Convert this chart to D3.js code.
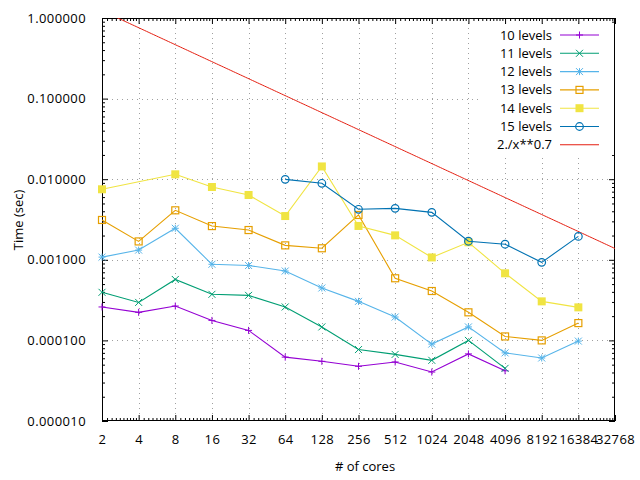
<!DOCTYPE html>
<html>
<head>
<meta charset="utf-8">
<script src="https://cdn.jsdelivr.net/npm/d3@7"></script>
<style>
html,body{margin:0;padding:0;background:#fff;}
text{font-family:"Open Sans",sans-serif;font-size:13px;fill:#000;}
</style>
</head>
<body>
<svg id="chart" width="640" height="480"></svg>
<script>
// ---- data ----
const cores = [2,4,8,16,32,64,128,256,512,1024,2048,4096,8192,16384];
const xTicks = [2,4,8,16,32,64,128,256,512,1024,2048,4096,8192,16384,32768];
const yTicks = [1e-5,1e-4,1e-3,1e-2,1e-1,1];
const seriesNames = ["10 levels","11 levels","12 levels","13 levels","14 levels","15 levels"];
const lev10 = [2.6e-4,2.23e-4,2.67e-4,1.77e-4,1.33e-4,6.2e-5,5.5e-5,4.77e-5,5.4e-5,4.05e-5,6.8e-5,4.2e-5,null,null];
const lev11 = [3.95e-4,2.96e-4,5.7e-4,3.73e-4,3.62e-4,2.6e-4,1.47e-4,7.7e-5,6.7e-5,5.66e-5,1.0e-4,4.5e-5,null,null];
const lev12 = [1.08e-3,1.32e-3,2.46e-3,8.8e-4,8.5e-4,7.26e-4,4.47e-4,3.05e-4,1.95e-4,9.0e-5,1.47e-4,7.0e-5,6.05e-5,9.8e-5];
const lev13 = [3.12e-3,1.69e-3,4.11e-3,2.62e-3,2.34e-3,1.51e-3,1.39e-3,3.6e-3,5.9e-4,4.1e-4,2.23e-4,1.12e-4,1.0e-4,1.64e-4];
const lev14 = [7.5e-3,null,1.15e-2,8.0e-3,6.37e-3,3.49e-3,1.44e-2,2.63e-3,2.01e-3,1.07e-3,1.65e-3,6.8e-4,3.05e-4,2.57e-4];
const lev15 = [null,null,null,null,null,9.96e-3,8.9e-3,4.23e-3,4.35e-3,3.88e-3,1.7e-3,1.56e-3,9.3e-4,1.95e-3];
const fitLabel = "2./x**0.7";
const colors = ["#9400d3","#009e73","#56b4e9","#e69f00","#f0e442","#0072b2","#e51e10"];
const markers = ["plus","cross","star","openSquare","filledSquare","openCircle"];
const allSeries = [lev10,lev11,lev12,lev13,lev14,lev15];

// ---- layout ----
const L=102, R=615, T=18, B=421;
const svg = d3.select("#chart");
const x = d3.scaleLog().base(2).domain([2,32768]).range([L,R]);
const y = d3.scaleLog().base(10).domain([1e-5,1]).range([B,T]);

// grid
const grid = svg.append("g").attr("stroke","#a0a0a0").attr("stroke-width",1).attr("stroke-dasharray","1,4");
xTicks.slice(1,-1).forEach(t=>{
  grid.append("line").attr("x1",Math.round(x(t))+0.5).attr("x2",Math.round(x(t))+0.5).attr("y1",T).attr("y2",B);
});
yTicks.slice(1,-1).forEach(t=>{
  grid.append("line").attr("y1",Math.round(y(t))+0.5).attr("y2",Math.round(y(t))+0.5).attr("x1",L).attr("x2",R);
});

// minor tick values
const xMinor=[];
xTicks.slice(0,-1).forEach(t=>{ for(let k=1;k<=9;k++) xMinor.push(t*(1+k/10)); });
const yMinor=[];
yTicks.slice(0,-1).forEach(t=>{ for(let k=2;k<=9;k++) yMinor.push(t*k); });

// axes with D3 axis generators
const fmtY = d3.format(".6f");
const axB = svg.append("g").attr("transform",`translate(0,${B})`)
  .call(d3.axisBottom(x).tickValues(xTicks).tickFormat(d=>String(d)).tickSizeInner(-6).tickSizeOuter(0).tickPadding(14));
const axBm = svg.append("g").attr("transform",`translate(0,${B})`)
  .call(d3.axisBottom(x).tickValues(xMinor).tickFormat("").tickSizeInner(-3).tickSizeOuter(0));
const axT = svg.append("g").attr("transform",`translate(0,${T})`)
  .call(d3.axisTop(x).tickValues(xTicks).tickFormat("").tickSizeInner(-6).tickSizeOuter(0));
const axTm = svg.append("g").attr("transform",`translate(0,${T})`)
  .call(d3.axisTop(x).tickValues(xMinor).tickFormat("").tickSizeInner(-3).tickSizeOuter(0));
const axL = svg.append("g").attr("transform",`translate(${L},0)`)
  .call(d3.axisLeft(y).tickValues(yTicks).tickFormat(fmtY).tickSizeInner(-6).tickSizeOuter(0).tickPadding(16));
const axLm = svg.append("g").attr("transform",`translate(${L},0)`)
  .call(d3.axisLeft(y).tickValues(yMinor).tickFormat("").tickSizeInner(-3).tickSizeOuter(0));
const axR = svg.append("g").attr("transform",`translate(${R},0)`)
  .call(d3.axisRight(y).tickValues(yTicks).tickFormat("").tickSizeInner(-6).tickSizeOuter(0));
const axRm = svg.append("g").attr("transform",`translate(${R},0)`)
  .call(d3.axisRight(y).tickValues(yMinor).tickFormat("").tickSizeInner(-3).tickSizeOuter(0));
[axB,axBm,axT,axTm,axL,axLm,axR,axRm].forEach(a=>{
  a.select(".domain").remove();
  a.selectAll("line").attr("stroke","#000");
  a.selectAll("text").attr("font-family","'Open Sans',sans-serif").attr("font-size",13)
    .attr("letter-spacing","0.4px").attr("fill","#000");
});

// border
svg.append("rect").attr("x",L+0.5).attr("y",T+0.5).attr("width",R-L-1).attr("height",B-T-1)
  .attr("fill","none").attr("stroke","#000").attr("stroke-width",1);

// clip
svg.append("clipPath").attr("id","clip").append("rect").attr("x",L).attr("y",T).attr("width",R-L).attr("height",B-T);

// opaque key background
svg.append("rect").attr("x",479).attr("y",25).attr("width",135).attr("height",130).attr("fill","#fff");

// fit line
const fitXs = d3.range(0,301).map(i=>Math.pow(2,1+14*i/300));
svg.append("path").attr("clip-path","url(#clip)")
  .attr("d",d3.line().x(d=>x(d)).y(d=>y(2/Math.pow(d,0.7)))(fitXs))
  .attr("fill","none").attr("stroke",colors[6]).attr("stroke-width",1);

// marker drawer
function drawMarker(g,type,cx,cy,col){
  const s=3.5;
  if(type==="plus"){
    g.append("path").attr("d",`M${cx-s},${cy}H${cx+s}M${cx},${cy-s}V${cy+s}`).attr("stroke",col).attr("stroke-width",1);
  } else if(type==="cross"){
    g.append("path").attr("d",`M${cx-s},${cy-s}L${cx+s},${cy+s}M${cx-s},${cy+s}L${cx+s},${cy-s}`).attr("stroke",col).attr("stroke-width",1);
  } else if(type==="star"){
    g.append("path").attr("d",`M${cx-s},${cy}H${cx+s}M${cx},${cy-s}V${cy+s}M${cx-s},${cy-s}L${cx+s},${cy+s}M${cx-s},${cy+s}L${cx+s},${cy-s}`).attr("stroke",col).attr("stroke-width",1);
  } else if(type==="openSquare"){
    g.append("rect").attr("x",cx-s).attr("y",cy-s).attr("width",2*s).attr("height",2*s).attr("fill","none").attr("stroke",col).attr("stroke-width",1.2);
  } else if(type==="filledSquare"){
    g.append("rect").attr("x",cx-4).attr("y",cy-4).attr("width",8).attr("height",8).attr("fill",col);
  } else if(type==="openCircle"){
    g.append("circle").attr("cx",cx).attr("cy",cy).attr("r",s+0.3).attr("fill","none").attr("stroke",col).attr("stroke-width",1.2);
  }
}

// series
const line = d3.line().defined(d=>d.v!=null).x(d=>x(d.c)).y(d=>y(d.v));
allSeries.forEach((vals,i)=>{
  const pts = cores.map((c,j)=>({c:c,v:vals[j]})).filter(d=>d.v!=null);
  const g = svg.append("g");
  g.append("path").attr("d",line(pts)).attr("fill","none").attr("stroke",colors[i]).attr("stroke-width",1.1);
  pts.forEach(p=>drawMarker(g,markers[i],x(p.c),y(p.v),colors[i]));
});

// legend
const keyNames = seriesNames.concat([fitLabel]);
keyNames.forEach((n,i)=>{
  const yy = 35 + i*18.3;
  svg.append("text").attr("x",552).attr("y",yy).attr("dy","0.35em").attr("text-anchor","end").text(n);
  svg.append("line").attr("x1",560).attr("x2",599).attr("y1",yy).attr("y2",yy).attr("stroke",colors[i]).attr("stroke-width",1.1);
  if(i<6) drawMarker(svg.append("g"),markers[i],579.5,yy,colors[i]);
});

// axis titles
svg.append("text").attr("x",365).attr("y",466).attr("dy","0.35em").attr("text-anchor","middle").text("# of cores");
svg.append("text").attr("transform","translate(18,220) rotate(-90)").attr("dy","0.35em").attr("text-anchor","middle").text("Time (sec)");
</script>
</body>
</html>
